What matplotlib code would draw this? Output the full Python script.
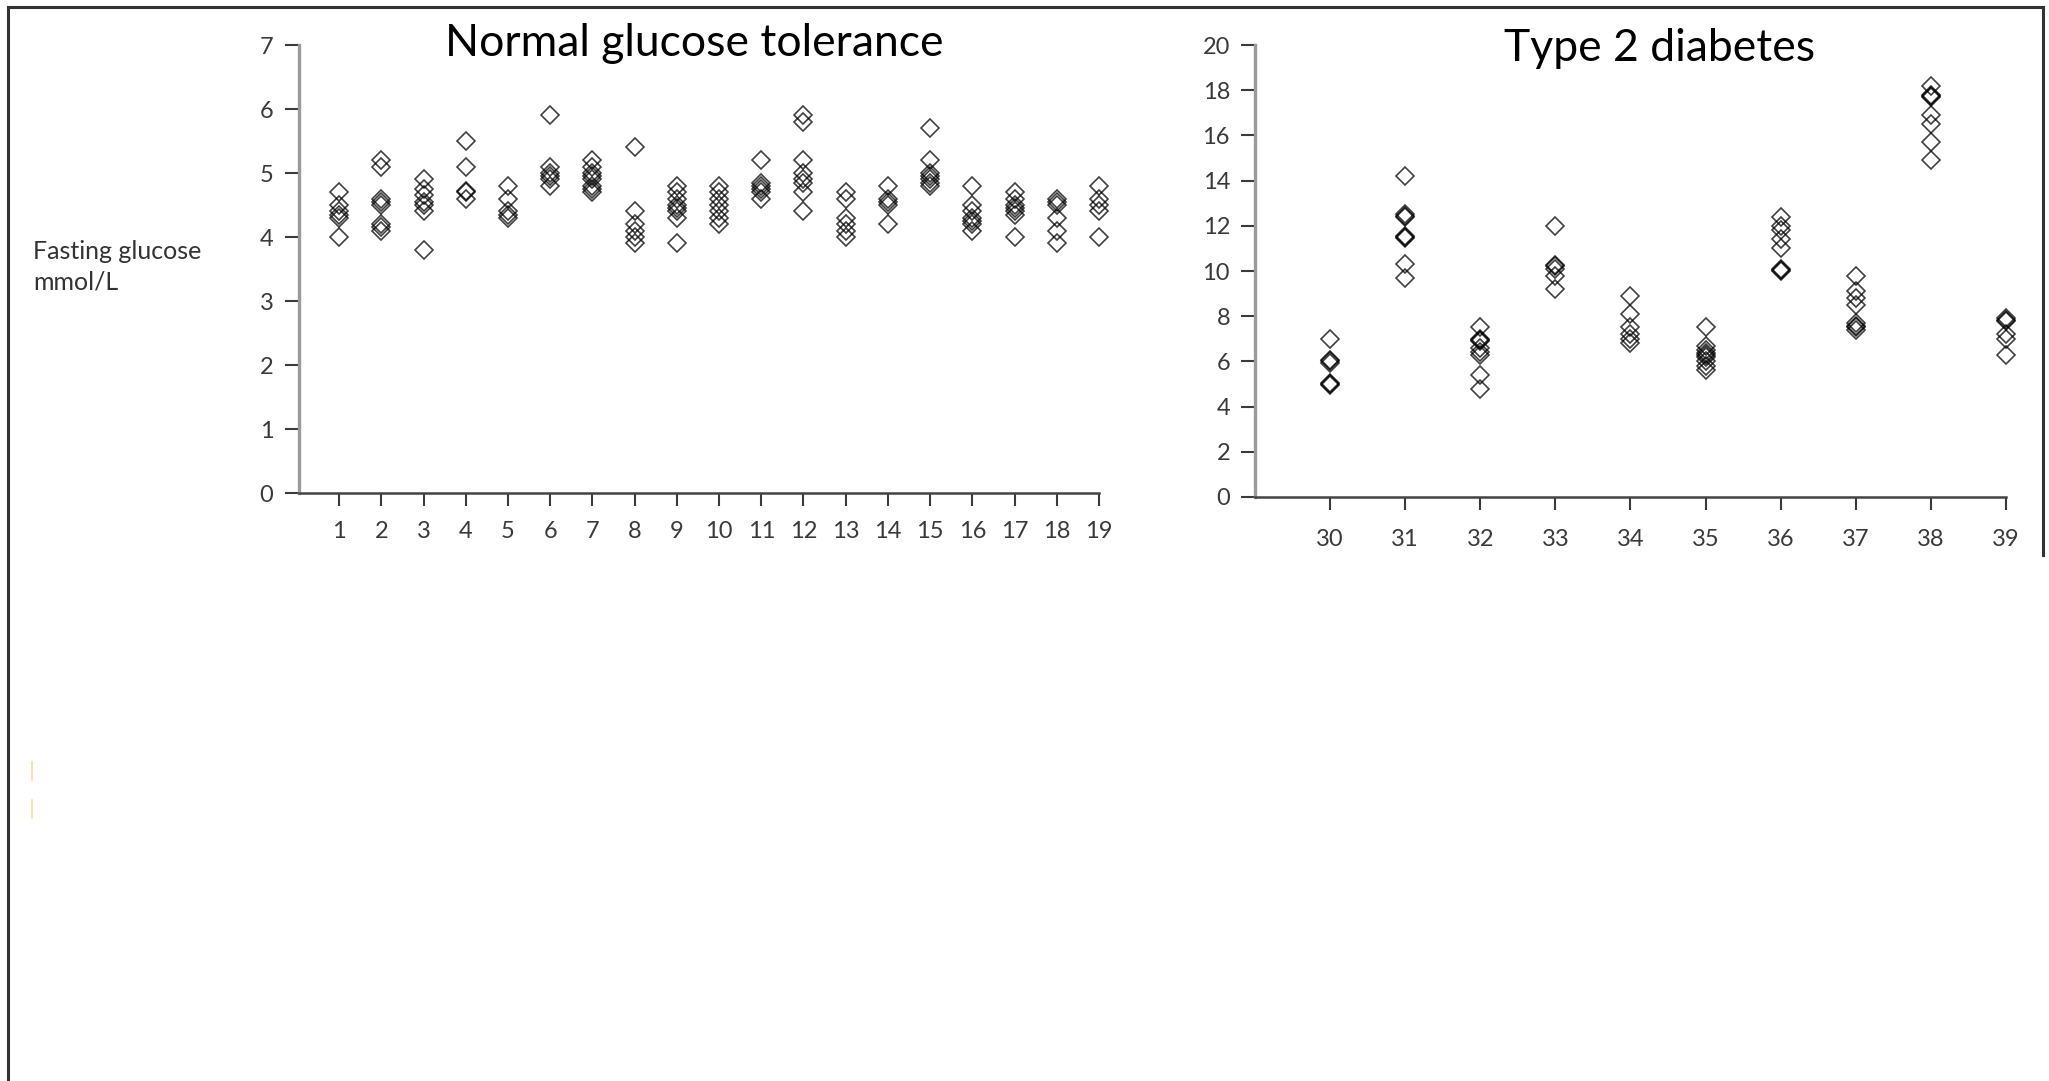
import matplotlib.pyplot as plt
from matplotlib.lines import Line2D

plt.rcParams['font.family'] = ['Lato', 'DejaVu Sans']

# fasting glucose (mmol/L), repeated measurements per subject
ngt_subjects = list(range(1, 20))
ngt_glucose = [
    [4.7, 4.5, 4.4, 4.35, 4.3, 4.0],
    [5.2, 5.1, 4.6, 4.55, 4.5, 4.2, 4.15, 4.1],
    [4.9, 4.75, 4.65, 4.55, 4.5, 4.4, 3.8],
    [5.5, 5.1, 4.72, 4.7, 4.6],
    [4.8, 4.6, 4.4, 4.35, 4.3],
    [5.9, 5.1, 5.0, 4.95, 4.9, 4.8],
    [5.2, 5.1, 5.0, 4.95, 4.9, 4.8, 4.75, 4.7],
    [5.4, 4.4, 4.2, 4.1, 4.0, 3.9],
    [4.8, 4.7, 4.6, 4.5, 4.45, 4.4, 4.3, 3.9],
    [4.8, 4.7, 4.6, 4.5, 4.4, 4.3, 4.2],
    [5.2, 4.85, 4.8, 4.75, 4.7, 4.6],
    [5.9, 5.8, 5.2, 5.0, 4.9, 4.85, 4.7, 4.4],
    [4.7, 4.6, 4.3, 4.2, 4.1, 4.0],
    [4.8, 4.6, 4.55, 4.5, 4.2],
    [5.7, 5.2, 5.0, 4.95, 4.9, 4.85, 4.8],
    [4.8, 4.5, 4.4, 4.3, 4.25, 4.2, 4.1],
    [4.7, 4.6, 4.5, 4.45, 4.4, 4.35, 4.0],
    [4.6, 4.55, 4.5, 4.3, 4.1, 3.9],
    [4.8, 4.6, 4.5, 4.4, 4.0],
]

t2d_subjects = list(range(30, 40))
t2d_glucose = [
    [7.0, 6.05, 6.0, 5.95, 5.05, 5.0, 4.95],
    [14.2, 12.5, 12.45, 12.4, 11.55, 11.5, 11.45, 10.3, 9.7],
    [7.5, 7.0, 6.95, 6.9, 6.6, 6.4, 6.3, 5.4, 4.8],
    [12.0, 10.25, 10.2, 10.1, 9.8, 9.2],
    [8.9, 8.1, 7.5, 7.2, 7.0, 6.8],
    [7.5, 6.7, 6.5, 6.35, 6.3, 6.2, 6.0, 5.8, 5.6],
    [12.4, 12.0, 11.8, 11.4, 11.0, 10.1, 10.05, 10.0],
    [9.8, 9.1, 8.8, 8.5, 7.7, 7.55, 7.5, 7.4],
    [18.2, 17.8, 17.75, 17.7, 16.9, 16.5, 15.7, 14.9],
    [7.9, 7.85, 7.8, 7.2, 7.0, 6.3],
]

W, H = 2049, 1081
fig = plt.figure(figsize=(W / 100, H / 100), dpi=100)

tick_col = '#3a3a3a'


def panel(rect, subjects, glucose, xlim, ylim, yticks, xpad, ypad):
    ax = fig.add_axes(rect)
    for x, vals in zip(subjects, glucose):
        ax.plot([x] * len(vals), vals, linestyle='none', marker='D',
                markersize=8.8, markerfacecolor='none', markeredgecolor='black',
                markeredgewidth=1.2, alpha=0.75, clip_on=False)
    ax.set_xlim(*xlim)
    ax.set_ylim(*ylim)
    ax.set_xticks(subjects)
    ax.set_yticks(yticks)
    for s in ('top', 'right'):
        ax.spines[s].set_visible(False)
    ax.spines['left'].set_color('#9a9a9a')
    ax.spines['left'].set_linewidth(2.4)
    ax.spines['bottom'].set_color('#444444')
    ax.spines['bottom'].set_linewidth(1.8)
    ax.tick_params(axis='y', length=10, width=1.5, color=tick_col,
                   pad=ypad, labelsize=17, labelcolor=tick_col)
    ax.tick_params(axis='x', length=9, width=1.5, color=tick_col,
                   pad=xpad, labelsize=17, labelcolor=tick_col)
    ax.patch.set_alpha(0)
    return ax


panel([299 / W, 1 - 493 / H, 800 / W, 448 / H], ngt_subjects, ngt_glucose,
      (0.05, 19), (0, 7), range(0, 8), 11, 8.5)
panel([1255 / W, 1 - 497 / H, 751 / W, 452 / H], t2d_subjects, t2d_glucose,
      (29, 39), (0, 20), range(0, 21, 2), 14, 8)

fig.text(694 / W, 1 - 56 / H, 'Normal glucose tolerance', ha='center',
         va='baseline', fontsize=32, color='black')
fig.text(1660 / W, 1 - 61 / H, 'Type 2 diabetes', ha='center',
         va='baseline', fontsize=32, color='black')
fig.text(33 / W, 1 - 267 / H, 'Fasting glucose\nmmol/L', ha='left',
         va='center', fontsize=18, color='#333333', linespacing=1.38)

# outer frame (left, top, right down to mid height)
frame = dict(color='#333333', linewidth=2.2, transform=fig.transFigure)
fig.add_artist(Line2D([8 / W, 8 / W], [0, 1 - 7 / H], **frame))
fig.add_artist(Line2D([8 / W, 2043 / W], [1 - 7 / H, 1 - 7 / H], **frame))
fig.add_artist(Line2D([2043 / W, 2043 / W], [1 - 7 / H, 1 - 555 / H], **frame))

# faint cursor marks
mark = dict(color='#ffd9a0', linewidth=1.2, transform=fig.transFigure)
fig.add_artist(Line2D([32 / W, 32 / W], [1 - 762 / H, 1 - 780 / H], **mark))
fig.add_artist(Line2D([32 / W, 32 / W], [1 - 800 / H, 1 - 818 / H], **mark))

fig.savefig('out.png', dpi=100, facecolor='white')
